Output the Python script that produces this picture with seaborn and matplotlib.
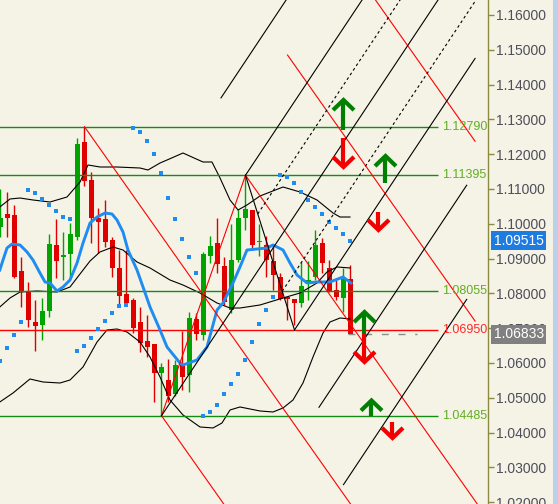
import matplotlib
matplotlib.use("Agg")
import matplotlib.pyplot as plt
from matplotlib.patches import Rectangle
import numpy as np
import pandas as pd
import seaborn as sns

plt.rcParams['font.family'] = ['Liberation Sans', 'DejaVu Sans']

# ---------------- data ----------------
opens = [1.09908, 1.10282, 1.10253, 1.08643, 1.08040, 1.07178, 1.07092, 1.07494, 1.09391, 1.09046,
         1.09132, 1.09621, 1.12351, 1.11259, 1.10167, 1.10138, 1.09534, 1.08730, 1.07983, 1.07810,
         1.07178, 1.06632, 1.06546, 1.05713, 1.05511, 1.05109, 1.05942, 1.05655, 1.07264, 1.06805,
         1.09075, 1.09448, 1.08787, 1.07523, 1.08960, 1.10167, 1.10397, 1.09477, 1.09391, 1.08931,
         1.08471, 1.07897, 1.07839, 1.07724, 1.08270, 1.08471, 1.09448, 1.08730, 1.08098, 1.07868,
         1.08414]
highs = [1.11000, 1.10914, 1.10540, 1.09046, 1.08328, 1.07810, 1.07868, 1.09707, 1.10138, 1.09764,
         1.10023, 1.12465, 1.12790, 1.11488, 1.10454, 1.10684, 1.09621, 1.09247, 1.09247, 1.07868,
         1.07609, 1.07379, 1.06560, 1.06000, 1.06115, 1.06086, 1.06919, 1.07465, 1.07437, 1.09190,
         1.09649, 1.10167, 1.09046, 1.09994, 1.10425, 1.11395, 1.10410, 1.09994, 1.09649, 1.09362,
         1.08586, 1.07897, 1.07839, 1.08902, 1.08931, 1.09822, 1.09592, 1.08960, 1.08385, 1.08730,
         1.08816]
lows = [1.09621, 1.09621, 1.08450, 1.07609, 1.07034, 1.06345, 1.06661, 1.07322, 1.08442, 1.08385,
        1.08471, 1.09534, 1.11086, 1.09448, 1.09161, 1.09333, 1.08471, 1.07667, 1.07700, 1.06862,
        1.06316, 1.06172, 1.04879, 1.04485, 1.04879, 1.05052, 1.05224, 1.05167, 1.06661, 1.06661,
        1.08873, 1.08586, 1.07667, 1.07437, 1.08902, 1.09822, 1.09247, 1.09075, 1.08471, 1.08098,
        1.07810, 1.07236, 1.07092, 1.07609, 1.07810, 1.08385, 1.08586, 1.08040, 1.07810, 1.07465,
        1.06833]
closes = [1.10167, 1.10167, 1.08471, 1.08040, 1.07236, 1.07063, 1.07494, 1.09419, 1.08931, 1.09103,
          1.09707, 1.12293, 1.11230, 1.10167, 1.10052, 1.09477, 1.08730, 1.07925, 1.07724, 1.07006,
          1.06575, 1.06460, 1.05713, 1.05885, 1.05052, 1.05942, 1.05598, 1.07293, 1.06833, 1.09132,
          1.09362, 1.08845, 1.07753, 1.08960, 1.10167, 1.10425, 1.09391, 1.09506, 1.08960, 1.08529,
          1.07839, 1.07839, 1.07724, 1.08213, 1.08385, 1.09391, 1.08873, 1.08069, 1.07897, 1.08414,
          1.06833]

sar_values = [1.06057, 1.06431, 1.06805, 1.07178, 1.10971, 1.10885, 1.10713, 1.10540, 1.10368, 1.10195,
              1.10138, 1.06345, 1.06489, 1.06719, 1.06977, 1.07207, 1.07437, 1.07638, 1.07667, 1.12753,
              1.12638, 1.12379, 1.12006, 1.11460, 1.10741, 1.10138, 1.09563, 1.09046, 1.08586, 1.04477,
              1.04592, 1.04793, 1.05109, 1.05396, 1.05684, 1.06086, 1.06603, 1.07120, 1.07523, 1.07897,
              1.11402, 1.11345, 1.11172, 1.10914, 1.10684, 1.10483, 1.10282, 1.10052, 1.09880, 1.09707,
              1.09506]

bb_upper_x = [-0.1, 1.36, 2.79, 4.64, 7.07, 9.5, 11.36, 12.5, 14.21, 16.64, 19.93, 21.07, 22.79, 23.79,
              26.07, 28.93, 30.21, 31.36, 32.79, 33.93, 35.21, 37.07, 40.36, 42.79, 45.21, 47.5, 48.5, 49.93]
bb_upper_y = [1.10483, 1.10713, 1.10741, 1.10684, 1.10626, 1.10770, 1.11201, 1.11690, 1.11632, 1.11632,
              1.11603, 1.11546, 1.11747, 1.11833, 1.12034, 1.11776, 1.11776, 1.11316, 1.10684, 1.10397,
              1.10540, 1.10799, 1.11057, 1.10914, 1.10684, 1.10310, 1.10195, 1.10195]

bb_mid_x = [-0.1, 1.36, 2.79, 5.21, 8.07, 9.93, 11.36, 12.79, 14.21, 16.07, 17.5, 19.5, 21.36, 24.21,
            26.07, 28.5, 30.93, 32.79, 34.21, 37.07, 40.36, 42.79, 45.21, 46.64, 48.07, 49.93]
bb_mid_y = [1.07609, 1.07868, 1.08040, 1.08069, 1.08040, 1.08184, 1.08558, 1.08931, 1.09190, 1.09333,
            1.09247, 1.08902, 1.08730, 1.08385, 1.08241, 1.08011, 1.07724, 1.07580, 1.07580, 1.07667,
            1.07868, 1.08011, 1.08299, 1.08615, 1.08759, 1.08730]

bb_lower_x = [-0.1, 1.79, 4.21, 6.07, 8.5, 9.93, 11.79, 13.79, 15.21, 16.64, 18.07, 19.93, 21.36, 22.79,
              24.21, 26.07, 28.5, 30.36, 31.64, 32.79, 34.21, 37.07, 38.93, 40.36, 41.79, 43.21, 44.64,
              46.07, 47.07, 48.5, 49.93]
bb_lower_y = [1.04879, 1.05138, 1.05540, 1.05454, 1.05425, 1.05511, 1.05885, 1.06603, 1.06948, 1.06977,
              1.06891, 1.06603, 1.06172, 1.05598, 1.04937, 1.04506, 1.04161, 1.04133, 1.04276, 1.04650,
              1.04736, 1.04621, 1.04592, 1.04707, 1.04937, 1.05425, 1.06172, 1.06862, 1.07178, 1.07293,
              1.07264]

ma_x = [-0.1, 0.36, 0.93, 1.64, 2.79, 3.79, 4.64, 5.64, 6.36, 7.07, 8.07, 8.93, 9.93, 10.93, 11.79,
        12.79, 13.79, 14.93, 15.93, 16.64, 17.5, 18.21, 19.5, 20.36, 21.36, 22.79, 23.79, 25.64, 26.07,
        28.07, 29.5, 30.93, 31.79, 33.21, 34.21, 35.21, 38.07, 38.93, 40.36, 41.36, 42.36, 43.79, 45.21,
        47.07, 48.93, 50.07]
ma_y = [1.08672, 1.08960, 1.09304, 1.09419, 1.09391, 1.09190, 1.08960, 1.08586, 1.08328, 1.08299,
        1.08069, 1.08184, 1.08385, 1.08873, 1.09448, 1.10023, 1.10195, 1.10310, 1.10282, 1.10109,
        1.09764, 1.09247, 1.08672, 1.08184, 1.07609, 1.06948, 1.06460, 1.06000, 1.05942, 1.06086,
        1.06460, 1.07523, 1.07724, 1.08299, 1.08759, 1.09247, 1.09304, 1.09391, 1.09247, 1.08873,
        1.08529, 1.08299, 1.08328, 1.08328, 1.08471, 1.08299]

level_prices = [1.12790, 1.11395, 1.08055, 1.06950, 1.04485]
level_labels = ["1.12790", "1.11395", "1.08055", "1.06950", "1.04485"]
level_is_red = [False, False, False, True, False]

bid_price = 1.09515
last_price = 1.06833

# pitchfork pivots (bar index, price)
red_pivot_x = [12, 23, 35]
red_pivot_y = [1.12790, 1.04485, 1.11395]
red_offsets = [0, 1, -1, 2, 3]
red_ends = [70, 70, 70, 67.8, 67.8]

black_pivot_x = [23, 35, 42]
black_pivot_y = [1.04485, 1.11395, 1.06950]
black_offsets = [0, -1, 1, -2, 2, 3]
black_ends = [70, 70, 67.8, 70, 66.6, 66.6]
black_dashed_offsets = [-0.5, 0.5]

arrow_x = [49, 49, 55, 54, 52, 52, 53, 56]
arrow_from = [1.12695, 1.12465, 1.11172, 1.10339, 1.06862, 1.06862, 1.04463, 1.04305]
arrow_to = [1.13557, 1.11632, 1.11948, 1.09822, 1.07465, 1.06029, 1.04923, 1.03845]

# ---------------- figure ----------------
BG = '#F5F3E6'
OLIVE = '#8A8A40'
GREEN_C = '#00A400'
RED_C = '#E00000'
BLUE = '#1E8CF0'

fig = plt.figure(figsize=(5.58, 5.04), dpi=100, facecolor=BG)
ax = fig.add_axes([0, 0, 488 / 558, 1])
ax.set_facecolor(BG)
ax.set_xlim(-0.0714, 69.643)
ax.set_ylim(1.01948, 1.16431)

fig.patches.append(Rectangle((553 / 558, 0), 5 / 558, 1, transform=fig.transFigure,
                             facecolor='#BCD0EA', edgecolor='none', zorder=0))

# candles
idx = np.arange(len(opens))
o = np.array(opens); h = np.array(highs); l = np.array(lows); c = np.array(closes)
cols = np.where(c >= o, GREEN_C, RED_C)
ax.vlines(idx, l, h, colors=cols, linewidth=1.0, zorder=2)
bottoms = np.minimum(o, c)
heights = np.maximum(np.abs(c - o), 0.0003)
ax.bar(idx, heights, bottom=bottoms, width=0.72, color=cols, linewidth=0, zorder=2)

# Bollinger bands and MA
for bx, by in [(bb_upper_x, bb_upper_y), (bb_mid_x, bb_mid_y), (bb_lower_x, bb_lower_y)]:
    sns.lineplot(x=bx, y=by, ax=ax, color='black', linewidth=0.8, sort=False,
                 estimator=None, zorder=3)
sns.lineplot(x=ma_x, y=ma_y, ax=ax, color=BLUE, linewidth=2.1, sort=False,
             estimator=None, zorder=4)

# Parabolic SAR
sns.scatterplot(x=idx, y=sar_values, ax=ax, color=BLUE, marker='s', s=5,
                linewidth=0, zorder=4)

# horizontal levels
for p, lab, isred in zip(level_prices, level_labels, level_is_red):
    lc = '#FF0000' if isred else '#158C15'
    tc = '#FF2A2A' if isred else '#62AE22'
    ax.hlines(p, -1, 62.5, colors=lc, linewidth=1.0, zorder=3)
    ax.text(63.1, p, lab, color=tc, fontsize=9, va='center', ha='left', zorder=6)

# gray dashed last-price line
ax.hlines(last_price, 49.6, 59.5, colors='#8C8C8C', linewidth=1.0,
          linestyles=(0, (5, 7)), zorder=3)


def pitchfork(px, py, offsets, ends, color, ls='-', lw=0.8, draw_handle=True):
    ax_, bx_, cx_ = px
    ay, by, cy = py
    mx, my = (bx_ + cx_) / 2, (by + cy) / 2
    slope = (my - ay) / (mx - ax_)
    off = cy - (ay + slope * (cx_ - ax_))
    hs = (cy - by) / (cx_ - bx_)
    for k, e in zip(offsets, ends):
        if k == 0:
            s = ax_
        else:
            s = (ay - slope * ax_ + k * off - by + hs * bx_) / (hs - slope)
        xs = np.array([s, e])
        ys = ay + slope * (xs - ax_) + k * off
        ax.plot(xs, ys, color=color, linewidth=lw, linestyle=ls, zorder=5)
    if draw_handle:
        ax.plot([bx_, cx_], [by, cy], color=color, linewidth=lw, zorder=5)


pitchfork(red_pivot_x, red_pivot_y, red_offsets, red_ends, '#FF0000')
pitchfork(black_pivot_x, black_pivot_y, black_offsets, black_ends, 'black')
pitchfork(black_pivot_x, black_pivot_y, black_dashed_offsets, [70, 70], 'black',
          ls=(0, (2.5, 2.5)), draw_handle=False)

# arrows
hw = 1.5
hh = 0.0029
for x, a, b in zip(arrow_x, arrow_from, arrow_to):
    up = b > a
    col = '#008000' if up else '#F00000'
    ax.plot([x, x], [a, b], color=col, linewidth=3.0, solid_capstyle='butt', zorder=6)
    d = -hh if up else hh
    ax.plot([x - hw, x, x + hw], [b + d, b, b + d], color=col, linewidth=3.0,
            solid_capstyle='butt', solid_joinstyle='miter', zorder=6)

# axis styling
for sp in ['top', 'left', 'bottom']:
    ax.spines[sp].set_visible(False)
ax.spines['right'].set_color(OLIVE)
ax.spines['right'].set_linewidth(1.0)
ax.set_xticks([])
ax.yaxis.tick_right()
ticks = np.round(np.arange(1.02, 1.1601, 0.01), 2)
ax.set_yticks(ticks)
ax.set_yticklabels([f"{t:.5f}" for t in ticks])
ax.tick_params(axis='y', direction='out', length=4, width=1, color=OLIVE,
               labelsize=10, labelcolor='#4E4E5C', pad=2)
ax.set_xlabel('')
ax.set_ylabel('')

# price boxes
tr = ax.get_yaxis_transform()
ax.text(1.0115, bid_price, f"{bid_price:.5f}", transform=tr, color='white', fontsize=10,
        va='center', ha='left', clip_on=False, zorder=10,
        bbox=dict(boxstyle='square,pad=0.18', facecolor='#1E7BE0', edgecolor='none'))
ax.text(1.0115, last_price, f"{last_price:.5f}", transform=tr, color='white', fontsize=10,
        va='center', ha='left', clip_on=False, zorder=10,
        bbox=dict(boxstyle='square,pad=0.18', facecolor='#808080', edgecolor='none'))

fig.savefig('out.png', dpi=100, facecolor=BG)
